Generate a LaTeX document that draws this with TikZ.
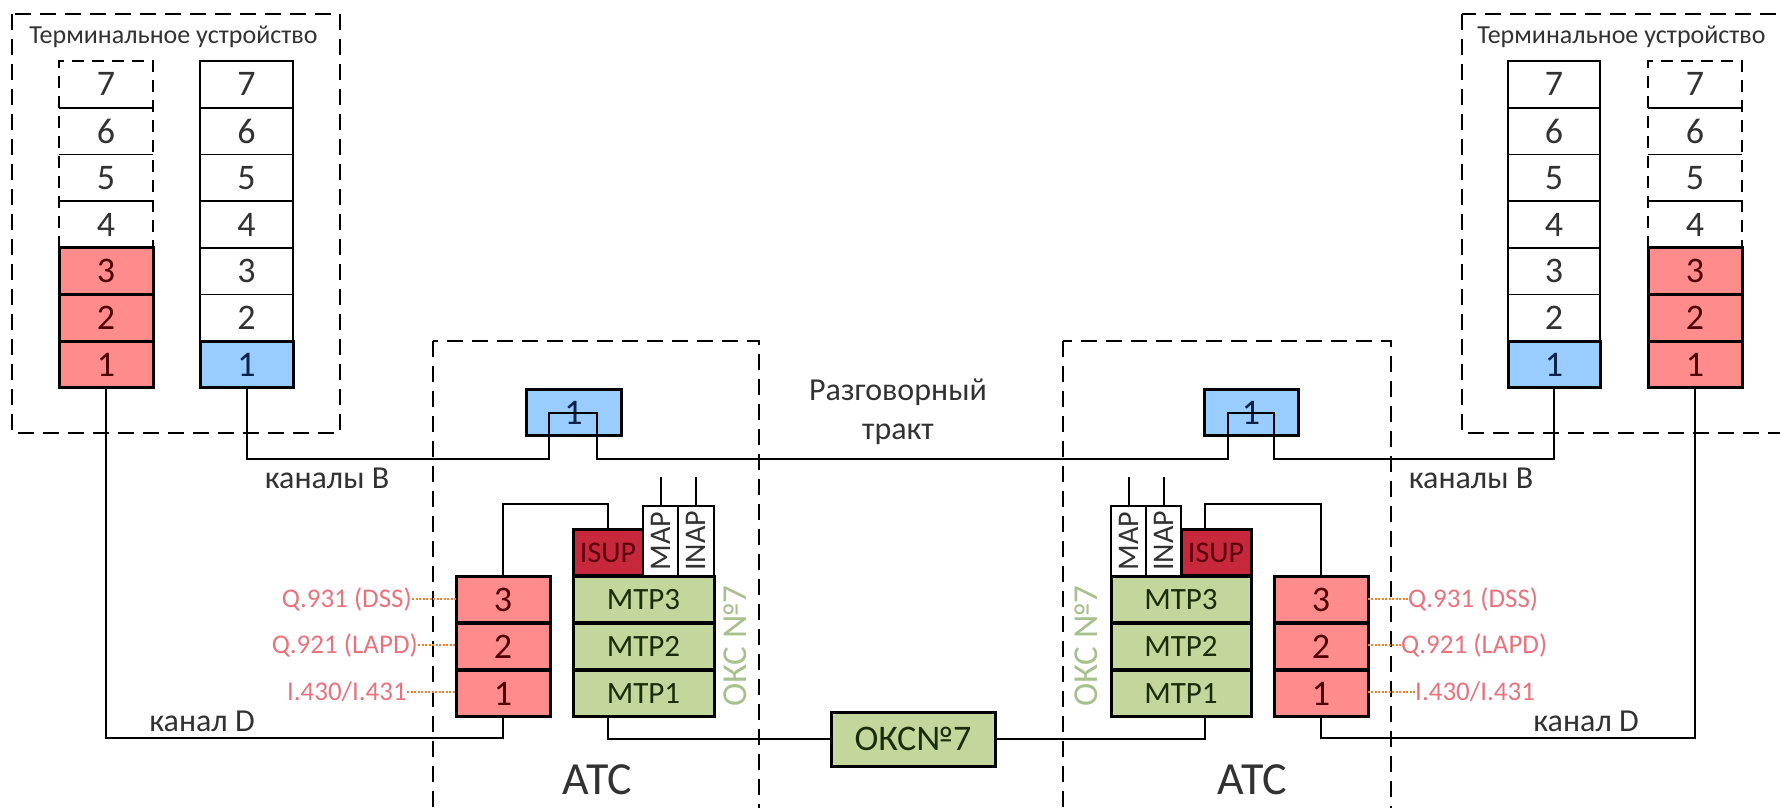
\documentclass[tikz,border=0pt]{standalone}
\usepackage{fontspec}
\usepackage{graphicx}
\setmainfont{Carlito}
\usetikzlibrary{calc}
\definecolor{redfill}{RGB}{255,140,140}
\definecolor{reddark}{RGB}{80,0,0}
\definecolor{bluefill}{RGB}{153,204,255}
\definecolor{bluedark}{RGB}{10,35,70}
\definecolor{greenfill}{RGB}{195,214,155}
\definecolor{greendark}{RGB}{25,45,10}
\definecolor{isupfill}{RGB}{200,40,60}
\definecolor{isuptext}{RGB}{90,0,15}
\definecolor{labelcol}{RGB}{232,115,125}
\definecolor{dotcol}{RGB}{235,130,50}
\definecolor{okscol}{RGB}{168,192,142}
\definecolor{txtgray}{RGB}{50,50,50}
\tikzset{
  cellbase/.style={inner sep=0pt, outer sep=0pt, minimum height=46.7pt, text=txtgray,
    font=\fontsize{36}{36}\selectfont},
  plaincell/.style={cellbase, minimum width=#1},
  whitecell/.style={cellbase, draw, line width=1.6pt, fill=white, minimum width=#1},
  redcell/.style={cellbase, draw, line width=3pt, fill=redfill, text=reddark, minimum width=#1},
  bluecell/.style={cellbase, draw, line width=3pt, fill=bluefill, text=bluedark, minimum width=#1},
  greencell/.style={cellbase, draw, line width=3pt, fill=greenfill, text=greendark,
    font=\fontsize{31}{31}\selectfont, minimum width=#1},
  isupcell/.style={cellbase, draw, line width=3pt, fill=isupfill, text=isuptext,
    font=\fontsize{30}{30}\selectfont, minimum width=70pt},
  vertcell/.style={cellbase, draw, line width=2.5pt, fill=white, text=txtgray,
    font=\fontsize{30}{30}\selectfont, minimum width=#1, minimum height=70pt},
  conn/.style={line width=2pt, black},
  thinsep/.style={line width=1.6pt, black},
  stackdash/.style={line width=2pt, dash pattern=on 12pt off 8pt},
  dashbox/.style={line width=2pt, dash pattern=on 16pt off 9pt},
  dotline/.style={line width=1.3pt, dotcol, dash pattern=on 2pt off 1.5pt},
  lbl/.style={inner sep=0pt, text=labelcol, font=\fontsize{27}{27}\selectfont},
  titletext/.style={inner sep=0pt, text=txtgray, font=\fontsize{26}{26}\selectfont},
  midtext/.style={inner sep=0pt, text=txtgray, font=\fontsize{32}{32}\selectfont},
  atctext/.style={inner sep=0pt, text=txtgray, font=\fontsize{46}{46}\selectfont},
  oksv/.style={inner sep=0pt, text=okscol, font=\fontsize{35}{35}\selectfont, rotate=90},
}
\begin{document}
\begin{tikzpicture}[x=1pt,y=-1pt]
\useasboundingbox (0,0) rectangle (1780,807);
\clip (0,0) rectangle (1780,807);
\fill[white] (0,0) rectangle (1780,807);

% dashed frames
\draw[dashbox] (12,14) rectangle (340,433);
\draw[dashbox] (1462,14) rectangle (1800,433);
\draw[dashbox] (433,341) rectangle (759,830);
\draw[dashbox] (1063,341) rectangle (1391,830);

% titles
\node[titletext] (tL) at (173.5,37) {Терминальное устройство};
\node[titletext] (tR) at (1621.5,37) {Терминальное устройство};

% terminal stacks
\foreach \n/\yy in {7/84.4,6/131.1,5/177.8,4/224.5} {
  \node[plaincell=94pt] (A\n) at (106,\yy) {\n};
  \node[plaincell=94pt] (D\n) at (1695,\yy) {\n};
}
\foreach \n/\yy in {7/84.4,6/131.1,5/177.8,4/224.5,3/271.2,2/317.9} {
  \node[whitecell=93pt] (B\n) at (246.5,\yy) {\n};
  \node[whitecell=92pt] (C\n) at (1554,\yy) {\n};
}
\foreach \n/\yy in {3/271.2,2/317.9,1/364.6} {
  \node[redcell=94pt] (A\n) at (106,\yy) {\n};
  \node[redcell=94pt] (D\n) at (1695,\yy) {\n};
}
\node[bluecell=93pt] (B1) at (246.5,364.6) {1};
\node[bluecell=92pt] (C1) at (1554,364.6) {1};

% dashed outlines of upper layers
\foreach \s in {A,D} {
  \draw[stackdash] (\s4.south west) -- (\s7.north west) -- (\s7.north east) -- (\s4.south east);
  \foreach \n in {7,6,5}
    \draw[thinsep] (\s\n.south west) -- (\s\n.south east);
}

% ATC left
\node[bluecell=95pt] (bL) at (573.5,412.5) {1};
\node[redcell=94pt] (redL3) at (503,599.5) {3};
\node[redcell=94pt] (redL2) at (503,646.5) {2};
\node[redcell=94pt] (redL1) at (503,693.5) {1};
\node[greencell=141pt] (mtpL3) at (643.5,599.5) {MTP3};
\node[greencell=141pt] (mtpL2) at (643.5,646.5) {MTP2};
\node[greencell=141pt] (mtpL1) at (643.5,693.5) {MTP1};
\node[isupcell] (isupL) at (608,552.5) {ISUP};
\node[vertcell=35pt] (mapL) at (660.5,541) {\rotatebox{90}{MAP}};
\node[vertcell=36pt] (inapL) at (696,541) {\rotatebox{90}{INAP}};
\node[oksv] (oksvL) at (735,646) {ОКС №7};

% ATC right
\node[bluecell=94pt] (bR) at (1251,412.5) {1};
\node[redcell=94pt] (redR3) at (1321,599.5) {3};
\node[redcell=94pt] (redR2) at (1321,646.5) {2};
\node[redcell=94pt] (redR1) at (1321,693.5) {1};
\node[greencell=140pt] (mtpR3) at (1181,599.5) {MTP3};
\node[greencell=140pt] (mtpR2) at (1181,646.5) {MTP2};
\node[greencell=140pt] (mtpR1) at (1181,693.5) {MTP1};
\node[isupcell] (isupR) at (1216,552.5) {ISUP};
\node[vertcell=35pt] (mapR) at (1128.5,541) {\rotatebox{90}{MAP}};
\node[vertcell=35pt] (inapR) at (1163.5,541) {\rotatebox{90}{INAP}};
\node[oksv] (oksvR) at (1086,646) {ОКС №7};

% OKS7 link box
\node[greencell=164pt, minimum height=54pt, font=\fontsize{36}{36}\selectfont] (oks) at (913,739) {ОКС№7};

% texts
\node[midtext] (kbL) at (327,478) {каналы B};
\node[midtext] (kbR) at (1471,478) {каналы B};
\node[midtext] (kdL) at (202,721) {канал D};
\node[midtext] (kdR) at (1586,721) {канал D};
\node[inner sep=0pt, text=txtgray, font=\fontsize{32}{39}\selectfont, align=center] (talk) at (898,412) {Разговорный\\тракт};
\node[atctext] (atcL) at (597,780) {АТС};
\node[atctext] (atcR) at (1252,780) {АТС};

% protocol labels
\node[lbl, anchor=east] (qL3) at (412,599) {Q.931 (DSS)};
\node[lbl, anchor=east] (qL2) at (418,645) {Q.921 (LAPD)};
\node[lbl, anchor=east] (qL1) at (407,692) {I.430/I.431};
\node[lbl, anchor=west] (qR3) at (1408,599) {Q.931 (DSS)};
\node[lbl, anchor=west] (qR2) at (1401,645) {Q.921 (LAPD)};
\node[lbl, anchor=west] (qR1) at (1415,692) {I.430/I.431};
\draw[dotline] (qL3.east) -- (qL3.east -| redL3.west);
\draw[dotline] (qL2.east) -- (qL2.east -| redL2.west);
\draw[dotline] (qL1.east) -- (qL1.east -| redL1.west);
\draw[dotline] (qR3.west) -- (qR3.west -| redR3.east);
\draw[dotline] (qR2.west) -- (qR2.west -| redR2.east);
\draw[dotline] (qR1.west) -- (qR1.west -| redR1.east);

% connectors
\coordinate (busB) at (0,459);
\coordinate (busD) at (0,738);
\coordinate (sigR) at (1205,0);
\coordinate (bLa) at ($(bL.center)+(-24.5,0)$);
\coordinate (bLb) at ($(bL.center)+(23.5,0)$);
\coordinate (bRa) at ($(bR.center)+(-23,0)$);
\coordinate (bRb) at ($(bR.center)+(23,0)$);
\draw[conn] (B1.south) |- (bLa |- busB) -- (bLa) -- (bLb) -- (bLb |- busB)
  -- (bRa |- busB) -- (bRa) -- (bRb) -- (bRb |- busB) -| (C1.south);
\draw[conn] (A1.south) |- (redL1.south |- busD) -- (redL1.south);
\draw[conn] (redR1.south) |- (D1.south |- busD) -- (D1.south);
\draw[conn] (isupL.north |- mtpL1.south) |- (oks.west);
\draw[conn] (oks.east) -| (sigR |- mtpR1.south);
\draw[conn] (isupL.north) -- ++(0,-25) -| (redL3.north);
\draw[conn] (sigR |- isupR.north) -- ++(0,-25) -| (redR3.north);
\draw[conn] (mapL.north) -- ++(0,-29);
\draw[conn] (inapL.north) -- ++(0,-29);
\draw[conn] (mapR.north) -- ++(0,-29);
\draw[conn] (inapR.north) -- ++(0,-29);
\end{tikzpicture}
\end{document}
